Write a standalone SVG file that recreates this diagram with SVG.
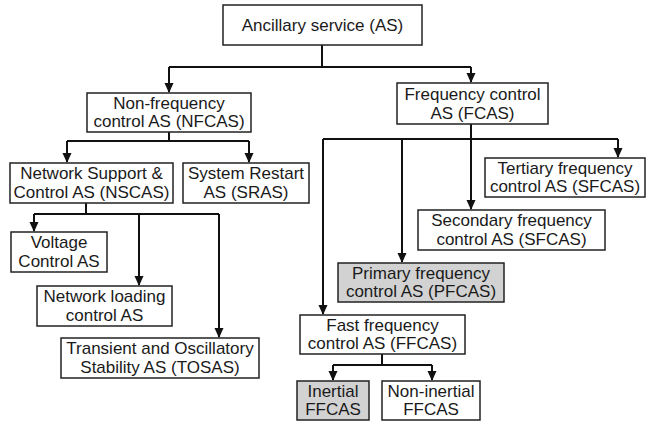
<svg xmlns="http://www.w3.org/2000/svg" width="648" height="424" viewBox="0 0 648 424">
<defs>
<marker id="arr" markerWidth="10" markerHeight="10" refX="9" refY="5" orient="auto" markerUnits="userSpaceOnUse">
<path d="M0,0.5 L10,5 L0,9.5 Z" fill="#111"/>
</marker>
<style>
.box{fill:#fff;stroke:#222;stroke-width:1.5}
.gray{fill:#d2d2d2}
.t{font-family:"Liberation Sans",Arial,sans-serif;font-size:17px;fill:#1a1a1a;text-anchor:middle}
.c{fill:none;stroke:#111;stroke-width:2}
.a{fill:none;stroke:#111;stroke-width:2;marker-end:url(#arr)}
</style>
</defs>
<rect width="648" height="424" fill="#fff"/>
<g id="connectors">
<path class="c" d="M322,45 V67 M169,67 H471 M169,132 V141 M67,141 H249 M86,203 V214 M34,214 H219 M471,124 V139 M323,139 H618 M382,354 V365 M333,365 H432"/>
<path class="a" d="M169,67 V92"/>
<path class="a" d="M471,67 V82"/>
<path class="a" d="M67,141 V162"/>
<path class="a" d="M249,141 V162"/>
<path class="a" d="M34,214 V231"/>
<path class="a" d="M139,214 V285"/>
<path class="a" d="M219,214 V337"/>
<path class="a" d="M618,139 V157"/>
<path class="a" d="M471,139 V209"/>
<path class="a" d="M402,139 V262"/>
<path class="a" d="M323,139 V314"/>
<path class="a" d="M333,365 V380"/>
<path class="a" d="M432,365 V380"/>
</g>
<g id="as"><rect class="box" x="223" y="5" width="199" height="40"/><text class="t" x="322.5" y="31">Ancillary service (AS)</text></g>
<g id="nfcas"><rect class="box" x="87" y="93" width="164" height="39"/><text class="t" x="169" y="109">Non-frequency</text><text class="t" x="169" y="127">control AS (NFCAS)</text></g>
<g id="fcas"><rect class="box" x="397" y="83" width="151" height="41"/><text class="t" x="472.5" y="100">Frequency control</text><text class="t" x="472.5" y="119">AS (FCAS)</text></g>
<g id="nscas"><rect class="box" x="10" y="163" width="163" height="40"/><text class="t" x="91.5" y="179">Network Support &amp;</text><text class="t" x="91.5" y="198">Control AS (NSCAS)</text></g>
<g id="sras"><rect class="box" x="183" y="163" width="126" height="40"/><text class="t" x="246" y="179">System Restart</text><text class="t" x="246" y="198">AS (SRAS)</text></g>
<g id="voltage"><rect class="box" x="11" y="232" width="96" height="40"/><text class="t" x="59" y="248">Voltage</text><text class="t" x="59" y="267">Control AS</text></g>
<g id="netload"><rect class="box" x="37" y="286" width="135" height="40"/><text class="t" x="104.5" y="302">Network loading</text><text class="t" x="104.5" y="321">control AS</text></g>
<g id="tosas"><rect class="box" x="61" y="338" width="198" height="40"/><text class="t" x="160" y="354">Transient and Oscillatory</text><text class="t" x="160" y="373">Stability AS (TOSAS)</text></g>
<g id="tertiary"><rect class="box" x="485" y="158" width="160" height="39"/><text class="t" x="565" y="174">Tertiary frequency</text><text class="t" x="565" y="192">control AS (SFCAS)</text></g>
<g id="secondary"><rect class="box" x="418" y="210" width="187" height="40"/><text class="t" x="511.5" y="226">Secondary frequency</text><text class="t" x="511.5" y="245">control AS (SFCAS)</text></g>
<g id="primary"><rect class="box gray" x="338" y="263" width="166" height="39"/><text class="t" x="421" y="279">Primary frequency</text><text class="t" x="421" y="297">control AS (PFCAS)</text></g>
<g id="ffcas"><rect class="box" x="300" y="315" width="165" height="39"/><text class="t" x="382.5" y="331">Fast frequency</text><text class="t" x="382.5" y="349">control AS (FFCAS)</text></g>
<g id="inertial"><rect class="box gray" x="297" y="381" width="72" height="39"/><text class="t" x="333" y="397">Inertial</text><text class="t" x="333" y="415">FFCAS</text></g>
<g id="noninertial"><rect class="box" x="382" y="381" width="98" height="39"/><text class="t" x="431" y="397">Non-inertial</text><text class="t" x="431" y="415">FFCAS</text></g>
</svg>
